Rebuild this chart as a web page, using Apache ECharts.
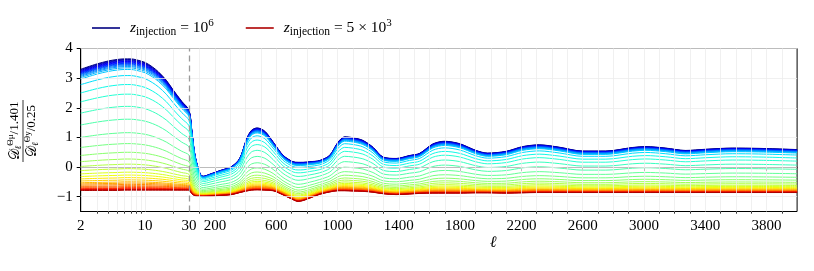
<!DOCTYPE html>
<html><head><meta charset="utf-8">
<script src="https://cdn.jsdelivr.net/npm/echarts@6/dist/echarts.min.js"></script>
<style>html,body{margin:0;padding:0;background:#fff}#c{width:814px;height:271px}</style>
</head><body><div id="c"></div>
<script>
// ---- data ----
const ell = [2,3,4,5,6,7,8,10,12,14,17,20,25,30,48,69,102,123,167,232,308,362,406,438,475,525,579,644,709,742,775,818,883,949,1003,1046,1100,1165,1231,1296,1383,1470,1535,1622,1698,1796,1904,1980,2100,2208,2317,2447,2599,2751,2925,3012,3142,3272,3403,3576,3750,4000];
// upper envelope (z_injection = 10^6)
const topCurve = [3.30,3.48,3.58,3.63,3.65,3.65,3.62,3.53,3.38,3.21,2.93,2.62,2.22,1.92,
  1.25,0.40,-0.22,-0.31,-0.24,-0.12,0.02,0.30,0.95,1.24,
  1.32,1.21,0.85,0.40,0.18,0.16,0.16,0.18,0.22,0.40,
  0.84,1.02,0.99,0.90,0.67,0.34,0.29,0.39,0.46,0.78,
  0.87,0.79,0.56,0.47,0.53,0.69,0.75,0.67,0.54,0.54,
  0.66,0.69,0.64,0.56,0.60,0.64,0.63,0.59];
// lower envelope (z_injection = 5 x 10^3)
const bottomCurve = [-0.79,-0.79,-0.79,-0.79,-0.78,-0.78,-0.78,-0.78,-0.78,-0.78,-0.78,-0.78,-0.78,-0.78,
  -0.90,-0.97,-0.99,-0.99,-0.98,-0.96,-0.93,-0.86,-0.81,-0.78,
  -0.77,-0.78,-0.80,-0.94,-1.10,-1.16,-1.13,-1.05,-0.92,-0.84,
  -0.80,-0.80,-0.81,-0.82,-0.85,-0.90,-0.93,-0.91,-0.89,-0.88,
  -0.88,-0.88,-0.87,-0.87,-0.88,-0.87,-0.86,-0.86,-0.86,-0.86,
  -0.86,-0.86,-0.86,-0.86,-0.86,-0.86,-0.86,-0.86];
// value of each curve at l = 2 (top = highest z_injection)
const curveLevelAtL2 = [3.30,3.28,3.26,3.24,3.22,3.20,3.18,3.16,3.14,3.12,3.09,3.06,3.02,2.97,
  2.78,2.50,2.20,1.82,1.42,1.00,0.66,0.39,0.18,0.02,
  -0.12,-0.23,-0.32,-0.40,-0.47,-0.53,-0.57,-0.61,-0.65,-0.68,
  -0.71,-0.73,-0.75,-0.765,-0.775,-0.79];
const majorTicks = [2,10,30,200,600,1000,1400,1800,2200,2600,3000,3400,3800];
const logMinorTicks = [3,4,5,6,7,8,9,20];
const yTicks = [-1,0,1,2,3,4];
const legendLabels = ['z6','z5e3'];

// ---- composite axis: log for l<=30, linear above ----
const LOG_PX = 108.3, LIN_PX = 608.1;
function T(l){ return l <= 30 ? Math.log10(l/2)/Math.log10(15)*LOG_PX : LOG_PX + (l-30)/3970*LIN_PX; }
function Tinv(t){ return t <= LOG_PX + 1e-6 ? 2*Math.pow(15, t/LOG_PX) : 30 + (t-LOG_PX)/LIN_PX*3970; }

const linMinor = [];
for (let v = 100; v < 4000; v += 100) if (majorTicks.indexOf(v) < 0) linMinor.push(v);
const minorTicks = logMinorTicks.concat(linMinor);
const gridX = logMinorTicks.concat([10]).concat((function(){const a=[];for(let v=100;v<4000;v+=100)a.push(v);return a;})());

function jet(t){
  function seg(pts){ for(let k=1;k<pts.length;k++){ if(t<=pts[k][0]){const a=pts[k-1],b=pts[k];return a[1]+(b[1]-a[1])*(t-a[0])/(b[0]-a[0]);} } return pts[pts.length-1][1]; }
  const r=seg([[0,0],[0.35,0],[0.66,1],[0.89,1],[1,0.5]]);
  const g=seg([[0,0],[0.125,0],[0.375,1],[0.64,1],[0.91,0],[1,0]]);
  const b=seg([[0,0.5],[0.11,1],[0.34,1],[0.65,0],[1,0]]);
  return 'rgb('+Math.round(r*255)+','+Math.round(g*255)+','+Math.round(b*255)+')';
}

const N = curveLevelAtL2.length;
const series = [];
series.push({
  type:'line', data:[], silent:true, z:1,
  markLine:{ silent:true, symbol:'none', animation:false, label:{show:false},
    lineStyle:{color:'#ececec', width:0.8, type:'solid'},
    data: gridX.map(v=>({xAxis:T(v)})).concat(yTicks.map(v=>({yAxis:v})))
  }
});
series.push({
  type:'line', data:[], silent:true, z:2,
  markLine:{ silent:true, symbol:'none', animation:false, label:{show:false},
    lineStyle:{color:'#9a9a9a', width:1.3, type:[6,4]},
    data:[{xAxis:T(30)}]
  }
});
for (let i = 0; i < N; i++){
  const f = (curveLevelAtL2[i]-bottomCurve[0])/(topCurve[0]-bottomCurve[0]);
  const data = ell.map((l,j)=>[T(l), bottomCurve[j] + f*(topCurve[j]-bottomCurve[j])]);
  const col = jet(i/(N-1)*0.96);
  series.push({
    name: i===0 ? legendLabels[0] : (i===N-1 ? legendLabels[1] : 'c'+i),
    type:'line', data, showSymbol:false, symbol:'none', smooth:0.3, silent:true, z:3,
    color: col, lineStyle:{color:col, width:1}, animation:false
  });
}

const serif = '"Liberation Serif", "DejaVu Serif", serif';
const chart = echarts.init(document.getElementById('c'), null, {renderer:'canvas'});
chart.setOption({
  animation:false,
  backgroundColor:'#fff',
  grid:{left:80.7, right:16.9, top:48.5, bottom:59.5, show:true, borderColor:'#000', borderWidth:1, backgroundColor:'transparent'},
  legend:{
    data: legendLabels, left: 92, top: 18, padding:0, icon:'rect', itemWidth:28, itemHeight:1.6, itemGap:32,
    formatter: n => n==='z6' ? '{i|z}{s|injection}{n| = 10}{p|6}' : '{i|z}{s|injection}{n| = 5 × 10}{p|3}',
    textStyle:{ fontFamily:serif, fontSize:15.5, color:'#000',
      rich:{
        i:{fontFamily:serif, fontStyle:'italic', fontSize:15.5, lineHeight:20, padding:[0,0,0,5]},
        s:{fontFamily:serif, fontSize:11.5, lineHeight:11, verticalAlign:'bottom'},
        n:{fontFamily:serif, fontSize:15.5, lineHeight:20},
        p:{fontFamily:serif, fontSize:11, lineHeight:11, verticalAlign:'top'}
      }
    }
  },
  xAxis:[{
    type:'value', min:0, max:T(4000), position:'bottom',
    axisLine:{show:true, lineStyle:{color:'#000', width:1}},
    axisTick:{show:true, customValues: majorTicks.map(T), length:4, lineStyle:{color:'#000', width:1}},
    axisLabel:{customValues: majorTicks.map(T), margin:7, color:'#000', fontFamily:serif, fontSize:15,
      formatter: v => String(Math.round(Tinv(v)))},
    splitLine:{show:false}
  },{
    type:'value', min:0, max:T(4000), position:'bottom', offset:0,
    axisLine:{show:false},
    axisTick:{show:true, customValues: minorTicks.map(T), length:2.2, lineStyle:{color:'#000', width:0.8}},
    axisLabel:{show:false}, splitLine:{show:false}
  }],
  yAxis:{
    type:'value', min:-1.5, max:4,
    axisLine:{show:true, lineStyle:{color:'#000', width:1}},
    axisTick:{show:true, customValues:yTicks, length:4, lineStyle:{color:'#000'}},
    axisLabel:{customValues:yTicks, margin:8, color:'#000', fontFamily:serif, fontSize:15,
      formatter: v => String(v).replace('-', '\u2212')},
    splitLine:{show:false}
  },
  graphic:[
    {type:'text', x:493, y:243, style:{text:'\u2113', font:'italic 16px "DejaVu Serif", serif', fill:'#000', align:'center', verticalAlign:'middle'}},
    {type:'group', x:23, y:131, rotation:Math.PI/2, children:[
      {type:'line', shape:{x1:-31, y1:0, x2:31, y2:0}, style:{stroke:'#000', lineWidth:0.8}},
      {type:'text', x:0, y:-8, style:{text:'{d|\uD835\uDC9F}{s|\u2113}{p|\u0398\u03BC}{n|/1.401}', align:'center', verticalAlign:'middle', fill:'#000',
        rich:{d:{fontFamily:serif, fontSize:14, lineHeight:17}, s:{fontFamily:serif, fontStyle:'italic', fontSize:9, lineHeight:8, verticalAlign:'bottom'}, p:{fontFamily:serif, fontSize:9, lineHeight:8, verticalAlign:'top'}, n:{fontFamily:serif, fontSize:13, lineHeight:17}}}},
      {type:'text', x:0, y:9, style:{text:'{d|\uD835\uDC9F}{s|\u2113}{p|\u0398y}{n|/0.25}', align:'center', verticalAlign:'middle', fill:'#000',
        rich:{d:{fontFamily:serif, fontSize:14, lineHeight:17}, s:{fontFamily:serif, fontStyle:'italic', fontSize:9, lineHeight:8, verticalAlign:'bottom'}, p:{fontFamily:serif, fontSize:9, lineHeight:8, verticalAlign:'top'}, n:{fontFamily:serif, fontSize:13, lineHeight:17}}}}
    ]}
  ],
  series
});
</script></body></html>
